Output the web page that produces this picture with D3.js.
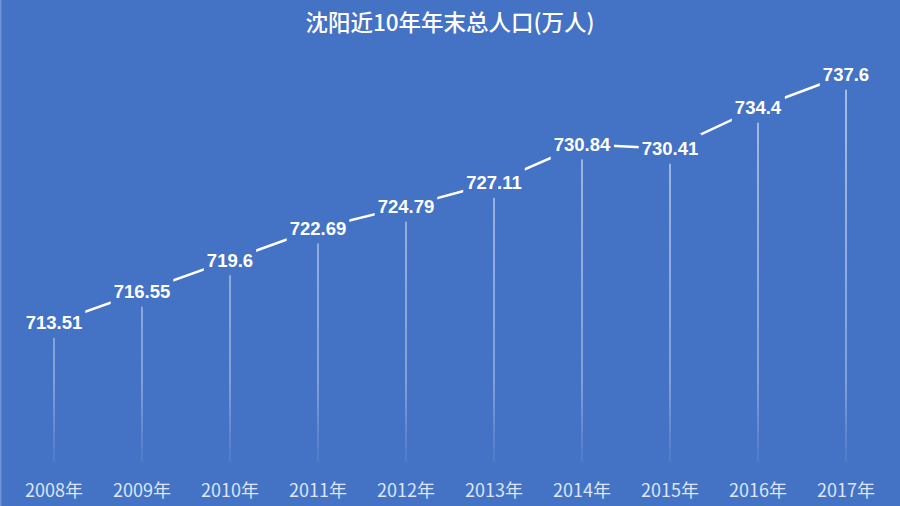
<!DOCTYPE html>
<html>
<head>
<meta charset="utf-8">
<script src="https://cdn.jsdelivr.net/npm/d3@7"></script>
<style>
  html, body { margin: 0; padding: 0; background: #4472C4; }
  svg { display: block; }
</style>
</head>
<body>
<div id="chart"></div>
<script>
const title = "沈阳近10年年末总人口(万人)";
const years = ["2008年", "2009年", "2010年", "2011年", "2012年", "2013年", "2014年", "2015年", "2016年", "2017年"];
const population = [713.51, 716.55, 719.6, 722.69, 724.79, 727.11, 730.84, 730.41, 734.4, 737.6];
const labelTexts = ["713.51", "716.55", "719.6", "722.69", "724.79", "727.11", "730.84", "730.41", "734.4", "737.6"];

const W = 900, H = 506;
const bg = "#4472C4";
const data = years.map((y, i) => ({ year: y, value: population[i], label: labelTexts[i] }));

const svg = d3.select("#chart").append("svg").attr("width", W).attr("height", H);
svg.append("rect").attr("width", W).attr("height", H).attr("fill", bg);
svg.append("line").attr("x1", 0.5).attr("x2", 0.5).attr("y1", 0).attr("y2", H)
  .attr("stroke", "#6f93d6").attr("stroke-width", 2);

const x = d3.scaleBand().domain(years).range([10, 890]).padding(0);
const y = d3.scaleLinear().domain([700, 740]).range([462, 50]);
const cx = d => x(d.year) + x.bandwidth() / 2;

// gradient for drop lines
const defs = svg.append("defs");
const grad = defs.append("linearGradient").attr("id", "dropGrad")
  .attr("gradientUnits", "userSpaceOnUse").attr("x1", 0).attr("x2", 0).attr("y1", 60).attr("y2", 462);
grad.append("stop").attr("offset", "0%").attr("stop-color", "#ffffff").attr("stop-opacity", 0.9);
grad.append("stop").attr("offset", "80%").attr("stop-color", "#ffffff").attr("stop-opacity", 0.55);
grad.append("stop").attr("offset", "100%").attr("stop-color", "#ffffff").attr("stop-opacity", 0.1);

// drop lines
svg.append("g").selectAll("line").data(data).join("line")
  .attr("x1", cx).attr("x2", cx)
  .attr("y1", d => y(d.value)).attr("y2", y(700))
  .attr("stroke", "url(#dropGrad)").attr("stroke-width", 1.2);

// line
const line = d3.line().x(cx).y(d => y(d.value));
svg.append("path").datum(data).attr("d", line)
  .attr("fill", "none").attr("stroke", "#ffffff").attr("stroke-width", 2.5);

// labels with background boxes
const lg = svg.append("g").selectAll("g").data(data).join("g")
  .attr("transform", d => `translate(${cx(d)},${y(d.value)})`);
lg.append("rect").attr("fill", bg);
lg.append("text")
  .attr("text-anchor", "middle").attr("dy", "0.35em")
  .attr("fill", "#ffffff")
  .style("font-family", "'Liberation Sans', Arial, sans-serif")
  .style("font-weight", "bold").style("font-size", "18.5px")
  .text(d => d.label);
lg.each(function () {
  const t = d3.select(this).select("text").node().getBBox();
  d3.select(this).select("rect")
    .attr("x", t.x - 3).attr("width", t.width + 6)
    .attr("y", -15).attr("height", 30);
});

// x axis labels
const xAxis = d3.axisBottom(x).tickSize(0).tickPadding(0);
const ax = svg.append("g").attr("transform", `translate(0,${484})`).call(xAxis);
ax.select(".domain").remove();
ax.selectAll("text")
  .attr("fill", "#dbe5f6")
  .style("font-family", "'Noto Sans CJK SC', sans-serif")
  .style("font-size", "18px");

// title
svg.append("text").attr("x", W / 2).attr("y", 31)
  .attr("text-anchor", "middle").attr("fill", "#ffffff")
  .style("font-family", "'Noto Sans CJK SC', sans-serif")
  .style("font-size", "22.5px").style("font-weight", "500")
  .text(title);
</script>
</body>
</html>
